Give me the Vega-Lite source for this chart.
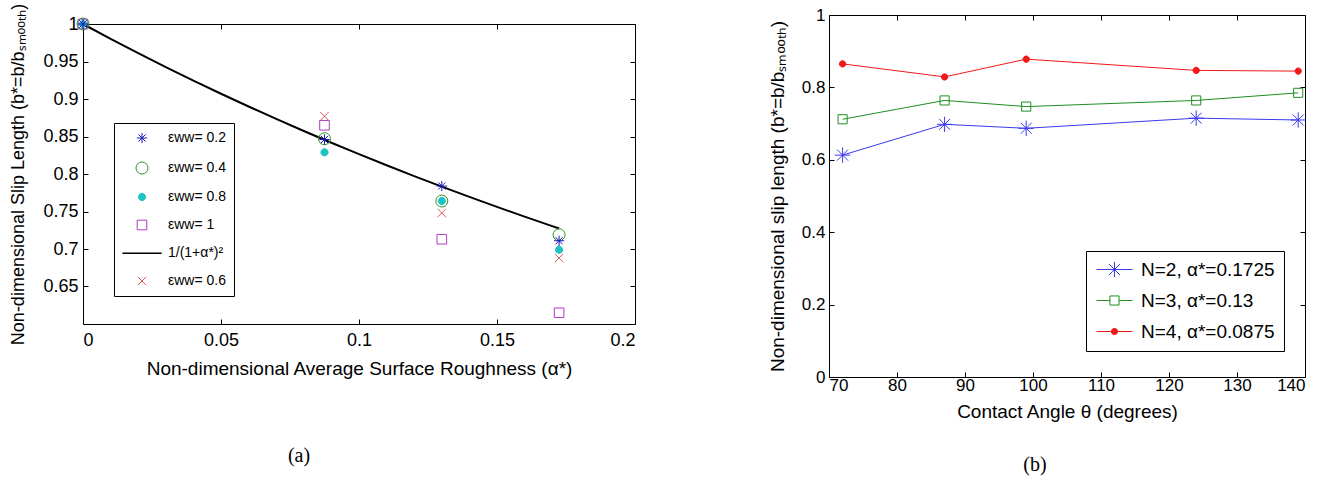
{
  "$schema": "https://vega.github.io/schema/vega-lite/v6.json",
  "background": "white",
  "padding": {"left": 9, "top": 2, "right": 0, "bottom": 0},
  "config": {
    "font": "Liberation Sans",
    "view": {"stroke": "black", "strokeWidth": 1},
    "axis": {"grid": false, "domain": false, "tickColor": "black", "tickSize": -5, "labelColor": "black", "titleColor": "black", "titleFontWeight": "normal", "labelFont": "Liberation Sans", "titleFont": "Liberation Sans"},
    "title": {"color": "black"}
  },
  "datasets": {
    "curve": [
      {"a": 0, "b": 1, "s": "curve"}, {"a": 0.01, "b": 0.9803, "s": "curve"}, {"a": 0.02, "b": 0.96117, "s": "curve"},
      {"a": 0.03, "b": 0.9426, "s": "curve"}, {"a": 0.04, "b": 0.92456, "s": "curve"}, {"a": 0.05, "b": 0.90703, "s": "curve"},
      {"a": 0.06, "b": 0.88999, "s": "curve"}, {"a": 0.07, "b": 0.87344, "s": "curve"}, {"a": 0.08, "b": 0.85734, "s": "curve"},
      {"a": 0.09, "b": 0.84168, "s": "curve"}, {"a": 0.1, "b": 0.82645, "s": "curve"}, {"a": 0.11, "b": 0.81162, "s": "curve"},
      {"a": 0.12, "b": 0.79719, "s": "curve"}, {"a": 0.13, "b": 0.78315, "s": "curve"}, {"a": 0.14, "b": 0.76947, "s": "curve"},
      {"a": 0.15, "b": 0.75614, "s": "curve"}, {"a": 0.16, "b": 0.74316, "s": "curve"}, {"a": 0.17, "b": 0.73051, "s": "curve"},
      {"a": 0.1725, "b": 0.72737, "s": "curve"}
    ],
    "left": [
      {"a": 0, "b": 1, "s": "1"}, {"a": 0.0875, "b": 0.865, "s": "1"}, {"a": 0.13, "b": 0.713, "s": "1"}, {"a": 0.1725, "b": 0.615, "s": "1"},
      {"a": 0, "b": 1, "s": "0.6"}, {"a": 0.0875, "b": 0.877, "s": "0.6"}, {"a": 0.13, "b": 0.748, "s": "0.6"}, {"a": 0.1725, "b": 0.688, "s": "0.6"},
      {"a": 0, "b": 1, "s": "0.4"}, {"a": 0.0875, "b": 0.847, "s": "0.4"}, {"a": 0.13, "b": 0.764, "s": "0.4"}, {"a": 0.1725, "b": 0.719, "s": "0.4"},
      {"a": 0, "b": 1, "s": "0.8"}, {"a": 0.0875, "b": 0.829, "s": "0.8"}, {"a": 0.13, "b": 0.764, "s": "0.8"}, {"a": 0.1725, "b": 0.699, "s": "0.8"},
      {"a": 0, "b": 1, "s": "0.2"}, {"a": 0.0875, "b": 0.846, "s": "0.2"}, {"a": 0.13, "b": 0.784, "s": "0.2"}, {"a": 0.1725, "b": 0.711, "s": "0.2"}
    ],
    "right": [
      {"t": 72, "v": 0.613, "s": "N2"}, {"t": 87, "v": 0.698, "s": "N2"}, {"t": 99, "v": 0.687, "s": "N2"}, {"t": 124, "v": 0.715, "s": "N2"}, {"t": 139, "v": 0.71, "s": "N2"},
      {"t": 72, "v": 0.712, "s": "N3"}, {"t": 87, "v": 0.764, "s": "N3"}, {"t": 99, "v": 0.747, "s": "N3"}, {"t": 124, "v": 0.764, "s": "N3"}, {"t": 139, "v": 0.785, "s": "N3"},
      {"t": 72, "v": 0.865, "s": "N4"}, {"t": 87, "v": 0.829, "s": "N4"}, {"t": 99, "v": 0.878, "s": "N4"}, {"t": 124, "v": 0.847, "s": "N4"}, {"t": 139, "v": 0.845, "s": "N4"}
    ]
  },
  "spacing": 131,
  "resolve": {"scale": {"stroke": "independent", "fill": "independent", "shape": "independent"}, "legend": {"stroke": "independent", "fill": "independent", "shape": "independent"}},
  "hconcat": [
    {
      "spacing": -14,
      "vconcat": [
        {"width": 1, "height": 1, "data": {"values": []}, "mark": {"type": "point"}, "encoding": {}, "view": {"stroke": null}},
        {
          "width": 552,
          "height": 300,
          "title": {"text": "(a)", "orient": "bottom", "anchor": "middle", "frame": "group", "dx": -60, "offset": 68, "font": "Liberation Serif", "fontSize": 20, "fontWeight": "normal", "color": "black"},
          "layer": [
            {
              "data": {"name": "curve"},
              "mark": {"type": "line", "strokeWidth": 2},
              "encoding": {
                "x": {"field": "a", "type": "quantitative", "scale": {"domain": [0, 0.2], "nice": false, "zero": false},
                      "axis": {"orient": "top", "values": [0, 0.05, 0.1, 0.15, 0.2], "labels": false, "title": null}},
                "y": {"field": "b", "type": "quantitative", "scale": {"domain": [0.6, 1], "nice": false, "zero": false},
                      "axis": {"orient": "right", "values": [0.65, 0.7, 0.75, 0.8, 0.85, 0.9, 0.95, 1], "labels": false, "title": null}},
                "stroke": {"field": "s", "type": "nominal",
                           "scale": {"domain": ["0.2", "0.4", "0.8", "1", "curve", "0.6"], "range": ["#1a1ab8", "#2f8f2f", "#1ec2c2", "#b03cc0", "#000000", "#e05a5a"]},
                           "legend": {"title": null, "orient": "none", "legendX": 31, "legendY": 108, "padding": 8, "strokeColor": "black", "fillColor": "white", "symbolSize": 144, "symbolStrokeWidth": 1, "symbolOpacity": 1, "symbolOffset": 13, "labelOffset": 19, "rowPadding": 14, "labelFont": "Liberation Sans", "labelFontSize": 14, "labelColor": "black",
                                      "labelExpr": "datum.value === 'curve' ? '1/(1+α*)²' : 'εww= ' + datum.value"}}
              }
            },
            {
              "data": {"name": "left"},
              "mark": {"type": "point", "filled": true, "size": 144, "strokeWidth": 1, "opacity": 1},
              "encoding": {
                "x": {"field": "a", "type": "quantitative", "scale": {"domain": [0, 0.2], "nice": false, "zero": false},
                      "axis": {"orient": "bottom", "values": [0, 0.05, 0.1, 0.15, 0.2], "format": "~g", "labelFontSize": 18, "labelPadding": 12, "title": "Non-dimensional Average Surface Roughness (α*)", "titleFontSize": 19, "titlePadding": 10}},
                "y": {"field": "b", "type": "quantitative", "scale": {"domain": [0.6, 1], "nice": false, "zero": false},
                      "axis": {"orient": "left", "values": [0.65, 0.7, 0.75, 0.8, 0.85, 0.9, 0.95, 1], "format": "~g", "labelFontSize": 18, "labelPadding": 10, "title": "Non-dimensional Slip Length (b*=b/bₛₘₒₒₜₕ)", "titleFontSize": 18, "titlePadding": 15}},
                "stroke": {"field": "s", "type": "nominal",
                           "scale": {"domain": ["0.2", "0.4", "0.8", "1", "curve", "0.6"], "range": ["#1a1ab8", "#2f8f2f", "#1ec2c2", "#b03cc0", "#000000", "#e05a5a"]},
                           "legend": {"title": null, "orient": "none", "legendX": 31, "legendY": 108, "padding": 8, "strokeColor": "black", "fillColor": "white", "symbolSize": 144, "symbolStrokeWidth": 1, "symbolOpacity": 1, "symbolOffset": 13, "labelOffset": 19, "rowPadding": 14, "labelFont": "Liberation Sans", "labelFontSize": 14, "labelColor": "black",
                                      "labelExpr": "datum.value === 'curve' ? '1/(1+α*)²' : 'εww= ' + datum.value"}},
                "fill": {"field": "s", "type": "nominal",
                         "scale": {"domain": ["0.2", "0.4", "0.8", "1", "curve", "0.6"], "range": ["transparent", "transparent", "#1ec2c2", "transparent", "transparent", "transparent"]},
                         "legend": {"title": null, "orient": "none", "legendX": 31, "legendY": 108, "padding": 8, "strokeColor": "black", "fillColor": "white", "symbolSize": 144, "symbolStrokeWidth": 1, "symbolOpacity": 1, "symbolOffset": 13, "labelOffset": 19, "rowPadding": 14, "labelFont": "Liberation Sans", "labelFontSize": 14, "labelColor": "black",
                                    "labelExpr": "datum.value === 'curve' ? '1/(1+α*)²' : 'εww= ' + datum.value"}},
                "shape": {"field": "s", "type": "nominal",
                          "scale": {"domain": ["0.2", "0.4", "0.8", "1", "curve", "0.6"],
                                    "range": ["M0,-0.85L0,0.85M-0.85,0L0.85,0M-0.6,-0.6L0.6,0.6M-0.6,0.6L0.6,-0.6", "circle", "M-0.6,0A0.6,0.6 0 1,0 0.6,0A0.6,0.6 0 1,0 -0.6,0Z", "M-0.8,-0.8L0.8,-0.8L0.8,0.8L-0.8,0.8Z", "M-3.25,0L3.25,0M-3.25,0.08L3.25,0.08", "M-0.7,-0.7L0.7,0.7M-0.7,0.7L0.7,-0.7"]},
                          "legend": {"title": null, "orient": "none", "legendX": 31, "legendY": 108, "padding": 8, "strokeColor": "black", "fillColor": "white", "symbolSize": 144, "symbolStrokeWidth": 1, "symbolOpacity": 1, "symbolOffset": 13, "labelOffset": 19, "rowPadding": 14, "labelFont": "Liberation Sans", "labelFontSize": 14, "labelColor": "black",
                                     "labelExpr": "datum.value === 'curve' ? '1/(1+α*)²' : 'εww= ' + datum.value"}}
              }
            }
          ],
          "resolve": {"axis": {"x": "independent", "y": "independent"}}
        }
      ]
    },
    {
      "width": 476,
      "height": 362,
      "title": {"text": "(b)", "orient": "bottom", "anchor": "middle", "frame": "group", "dx": -32, "offset": 34, "font": "Liberation Serif", "fontSize": 20, "fontWeight": "normal", "color": "black"},
      "layer": [
        {
          "data": {"name": "right"},
          "mark": {"type": "line", "strokeWidth": 1},
          "encoding": {
            "x": {"field": "t", "type": "quantitative", "scale": {"domain": [70, 140], "nice": false, "zero": false},
                  "axis": {"orient": "top", "values": [70, 80, 90, 100, 110, 120, 130, 140], "labels": false, "title": null}},
            "y": {"field": "v", "type": "quantitative", "scale": {"domain": [0, 1], "nice": false},
                  "axis": {"orient": "right", "values": [0, 0.2, 0.4, 0.6, 0.8, 1], "labels": false, "title": null}},
            "stroke": {"field": "s", "type": "nominal",
                       "scale": {"domain": ["N2", "N3", "N4"], "range": ["#3a3af0", "#1f8f1f", "#f01818"]},
                       "legend": null}
          }
        },
        {
          "data": {"name": "right"},
          "mark": {"type": "point", "filled": true, "size": 196, "strokeWidth": 1, "opacity": 0},
          "encoding": {
            "x": {"field": "t", "type": "quantitative", "scale": {"domain": [70, 140], "nice": false, "zero": false},
                  "axis": {"orient": "bottom", "values": [70, 80, 90, 100, 110, 120, 130, 140], "labelFontSize": 17, "labelPadding": 5, "title": "Contact Angle θ (degrees)", "titleFontSize": 19, "titlePadding": 9}},
            "y": {"field": "v", "type": "quantitative", "scale": {"domain": [0, 1], "nice": false},
                  "axis": {"orient": "left", "values": [0, 0.2, 0.4, 0.6, 0.8, 1], "format": "~g", "labelFontSize": 17, "labelPadding": 9, "title": "Non-dimensional slip length (b*=b/bₛₘₒₒₜₕ)", "titleFontSize": 19, "titlePadding": 14}},
            "stroke": {"field": "s", "type": "nominal",
                       "scale": {"domain": ["N2", "N3", "N4"], "range": ["#3a3af0", "#1f8f1f", "#f01818"]},
                       "legend": {"title": null, "orient": "none", "legendX": 257, "legendY": 236, "padding": 9, "strokeColor": "black", "fillColor": "white", "symbolSize": 196, "symbolStrokeWidth": 1, "symbolOpacity": 1, "symbolOffset": 10, "labelOffset": 17, "rowPadding": 11, "labelFont": "Liberation Sans", "labelFontSize": 19, "labelColor": "black",
                                  "labelExpr": "datum.value === 'N2' ? 'N=2, α*=0.1725' : datum.value === 'N3' ? 'N=3, α*=0.13' : 'N=4, α*=0.0875'"}},
            "fill": {"field": "s", "type": "nominal",
                     "scale": {"domain": ["N2", "N3", "N4"], "range": ["transparent", "transparent", "#f01818"]},
                     "legend": {"title": null, "orient": "none", "legendX": 257, "legendY": 236, "padding": 9, "strokeColor": "black", "fillColor": "white", "symbolSize": 196, "symbolStrokeWidth": 1, "symbolOpacity": 1, "symbolOffset": 10, "labelOffset": 17, "rowPadding": 11, "labelFont": "Liberation Sans", "labelFontSize": 19, "labelColor": "black",
                                "labelExpr": "datum.value === 'N2' ? 'N=2, α*=0.1725' : datum.value === 'N3' ? 'N=3, α*=0.13' : 'N=4, α*=0.0875'"}},
            "shape": {"field": "s", "type": "nominal",
                      "scale": {"domain": ["N2", "N3", "N4"], "range": ["M-2.57,0L2.57,0M0,-1.1L0,1.1M-0.78,-0.78L0.78,0.78M-0.78,0.78L0.78,-0.78", "M-2.57,0L-0.65,0M0.65,0L2.57,0M-0.65,-0.65L0.65,-0.65L0.65,0.65L-0.65,0.65Z", "M-2.57,0L2.57,0M-0.45,0A0.45,0.45 0 1,0 0.45,0A0.45,0.45 0 1,0 -0.45,0Z"]},
                      "legend": {"title": null, "orient": "none", "legendX": 257, "legendY": 236, "padding": 9, "strokeColor": "black", "fillColor": "white", "symbolSize": 196, "symbolStrokeWidth": 1, "symbolOpacity": 1, "symbolOffset": 10, "labelOffset": 17, "rowPadding": 11, "labelFont": "Liberation Sans", "labelFontSize": 19, "labelColor": "black",
                                 "labelExpr": "datum.value === 'N2' ? 'N=2, α*=0.1725' : datum.value === 'N3' ? 'N=3, α*=0.13' : 'N=4, α*=0.0875'"}}
          }
        },
        {
          "data": {"name": "right"},
          "mark": {"type": "point", "filled": true, "size": 196, "strokeWidth": 1, "opacity": 1},
          "encoding": {
            "x": {"field": "t", "type": "quantitative", "axis": null},
            "y": {"field": "v", "type": "quantitative", "axis": null},
            "stroke": {"field": "s", "type": "nominal", "scale": {"domain": ["N2", "N3", "N4"], "range": ["#3a3af0", "#1f8f1f", "#f01818"]}, "legend": null},
            "fill": {"field": "s", "type": "nominal", "scale": {"domain": ["N2", "N3", "N4"], "range": ["transparent", "transparent", "#f01818"]}, "legend": null},
            "shape": {"field": "s", "type": "nominal",
                      "scale": {"domain": ["N2", "N3", "N4"], "range": ["M0,-1.1L0,1.1M-1.1,0L1.1,0M-0.78,-0.78L0.78,0.78M-0.78,0.78L0.78,-0.78", "M-0.65,-0.65L0.65,-0.65L0.65,0.65L-0.65,0.65Z", "M-0.45,0A0.45,0.45 0 1,0 0.45,0A0.45,0.45 0 1,0 -0.45,0Z"]},
                      "legend": null}
          }
        }
      ],
      "resolve": {"scale": {"shape": "independent", "stroke": "independent", "fill": "independent"}, "legend": {"shape": "independent", "stroke": "independent", "fill": "independent"}, "axis": {"x": "independent", "y": "independent"}}
    }
  ]
}
